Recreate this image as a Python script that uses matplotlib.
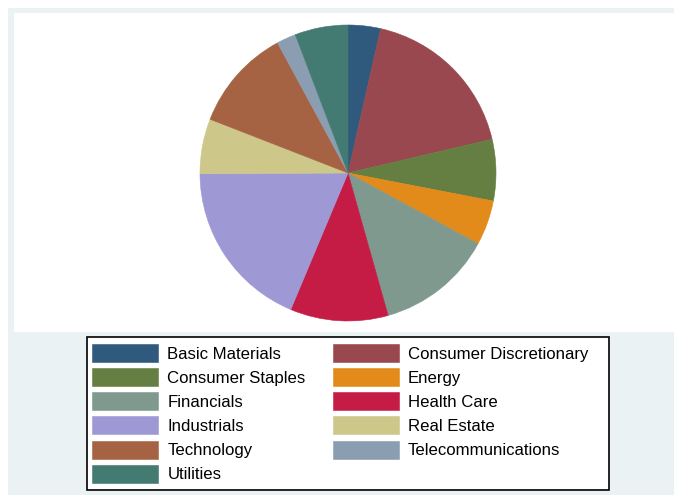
import matplotlib.pyplot as plt
from matplotlib.patches import Rectangle

plt.rcParams['font.family'] = ['Liberation Sans', 'DejaVu Sans']

# sector weights (percent of portfolio)
sectors = ['Basic Materials', 'Consumer Discretionary', 'Consumer Staples', 'Energy',
           'Financials', 'Health Care', 'Industrials', 'Real Estate',
           'Technology', 'Telecommunications', 'Utilities']
shares = [3.55, 17.8, 6.7, 4.9, 12.7, 10.7, 18.6, 6.0, 11.2, 2.1, 5.8]
colors = ['#2f5a7e', '#98484e', '#657f43', '#e28a1a', '#7f998e', '#c51c46',
          '#9e98d4', '#cec78a', '#a66343', '#8a9db1', '#437a72']

W, H = 674, 495
fig = plt.figure(figsize=(W / 100, H / 100), dpi=100, facecolor='white')

def px(x0, y0, x1, y1):
    # pixel box (top-left origin) -> figure fraction rect
    return [x0 / W, 1 - y1 / H, (x1 - x0) / W, (y1 - y0) / H]

def rect(box, **kw):
    l, b, w, h = px(*box)
    fig.patches.append(Rectangle((l, b), w, h, transform=fig.transFigure, **kw))

# graph region, white plot region and legend box, kept behind everything else
rect((8, 8, 680, 500), facecolor='#eaf2f3', edgecolor='none', zorder=-3)
rect((14, 13, 680, 332), facecolor='white', edgecolor='none', zorder=-2)
rect((87, 337, 609, 490), facecolor='white', edgecolor='black', linewidth=1.2, zorder=-1)

ax = fig.add_axes(px(200, 25, 496, 321))
ax.patch.set_visible(False)
wedges, _ = ax.pie(shares, colors=colors, startangle=90, counterclock=False,
                   radius=1, wedgeprops=dict(linewidth=0.4))
for w, c in zip(wedges, colors):
    w.set_edgecolor(c)
ax.set_xlim(-1, 1)
ax.set_ylim(-1, 1)
ax.set_aspect('equal')
ax.axis('off')

# legend reads row by row, matplotlib fills column by column
order = list(range(0, 11, 2)) + list(range(1, 11, 2))
leg = fig.legend([wedges[i] for i in order], [sectors[i] for i in order],
                 loc='upper left', bbox_to_anchor=(87 / W, 1 - 339 / H), ncol=2,
                 fontsize=12.1, frameon=False,
                 borderaxespad=0, borderpad=0.32, handlelength=3.93, handleheight=1.27,
                 handletextpad=0.54, labelspacing=0.36, columnspacing=1.6)

fig.savefig('out.png', dpi=100, facecolor='white')
